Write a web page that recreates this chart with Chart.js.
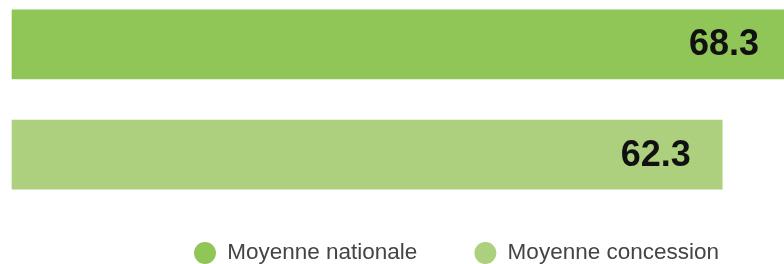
<!DOCTYPE html>
<html>
<head>
<meta charset="utf-8">
<script src="https://cdn.jsdelivr.net/npm/chart.js@4"></script>
<style>
  html, body { margin: 0; padding: 0; background: #fff; }
  #wrap { width: 784px; height: 264px; }
</style>
</head>
<body>
<div id="wrap"><canvas id="chart"></canvas></div>
<script>
var categories = ['Moyenne nationale', 'Moyenne concession'];
var nationale = [68.3, null];
var concession = [null, 62.3];
var colors = ['#90c557', '#acd07e'];

// values written inside the bars, near their end
var valueLabels = {
    id: 'valueLabels',
    afterDatasetsDraw: function (chart) {
        var ctx = chart.ctx;
        ctx.save();
        ctx.font = 'bold 36px "Liberation Sans", Arial, sans-serif';
        ctx.fillStyle = '#111';
        ctx.textAlign = 'right';
        ctx.textBaseline = 'middle';
        chart.data.datasets.forEach(function (ds, i) {
            var meta = chart.getDatasetMeta(i);
            meta.data.forEach(function (bar, j) {
                var v = ds.data[j];
                if (v === null) return;
                ctx.fillText(v.toFixed(1), bar.x - 31.5, bar.y + 1);
            });
        });
        ctx.restore();
    }
};

var ctx = document.getElementById('chart').getContext('2d');
var chart = new Chart(ctx, {
    type: 'bar',
    data: {
        labels: categories,
        datasets: [{
            label: categories[0],
            data: nationale,
            backgroundColor: colors[0],
            barThickness: 69,
            clip: false
        }, {
            label: categories[1],
            data: concession,
            backgroundColor: colors[1],
            barThickness: 69,
            clip: false
        }]
    },
    options: {
        indexAxis: 'y',
        responsive: true,
        maintainAspectRatio: false,
        animation: false,
        layout: { padding: { top: 44.3, left: 12, right: 8, bottom: -10.25 } },
        datasets: { bar: { grouped: false } },
        scales: {
            x: { display: false, min: 0, max: 67.02 },
            y: { display: false, offset: false }
        },
        plugins: {
            tooltip: { enabled: false },
            legend: {
                position: 'bottom',
                align: 'end',
                maxHeight: 200,
                title: {
                    display: true,
                    text: ' ',
                    font: { size: 12, lineHeight: 1 },
                    padding: { top: 18.05, bottom: 0 }
                },
                labels: {
                    usePointStyle: true,
                    pointStyle: 'circle',
                    boxWidth: 22,
                    boxHeight: 15.5,
                    padding: 57,
                    color: '#444',
                    font: { family: '"Liberation Sans", Arial, sans-serif', size: 22.5 }
                }
            }
        }
    },
    plugins: [valueLabels]
});
</script>
</body>
</html>
